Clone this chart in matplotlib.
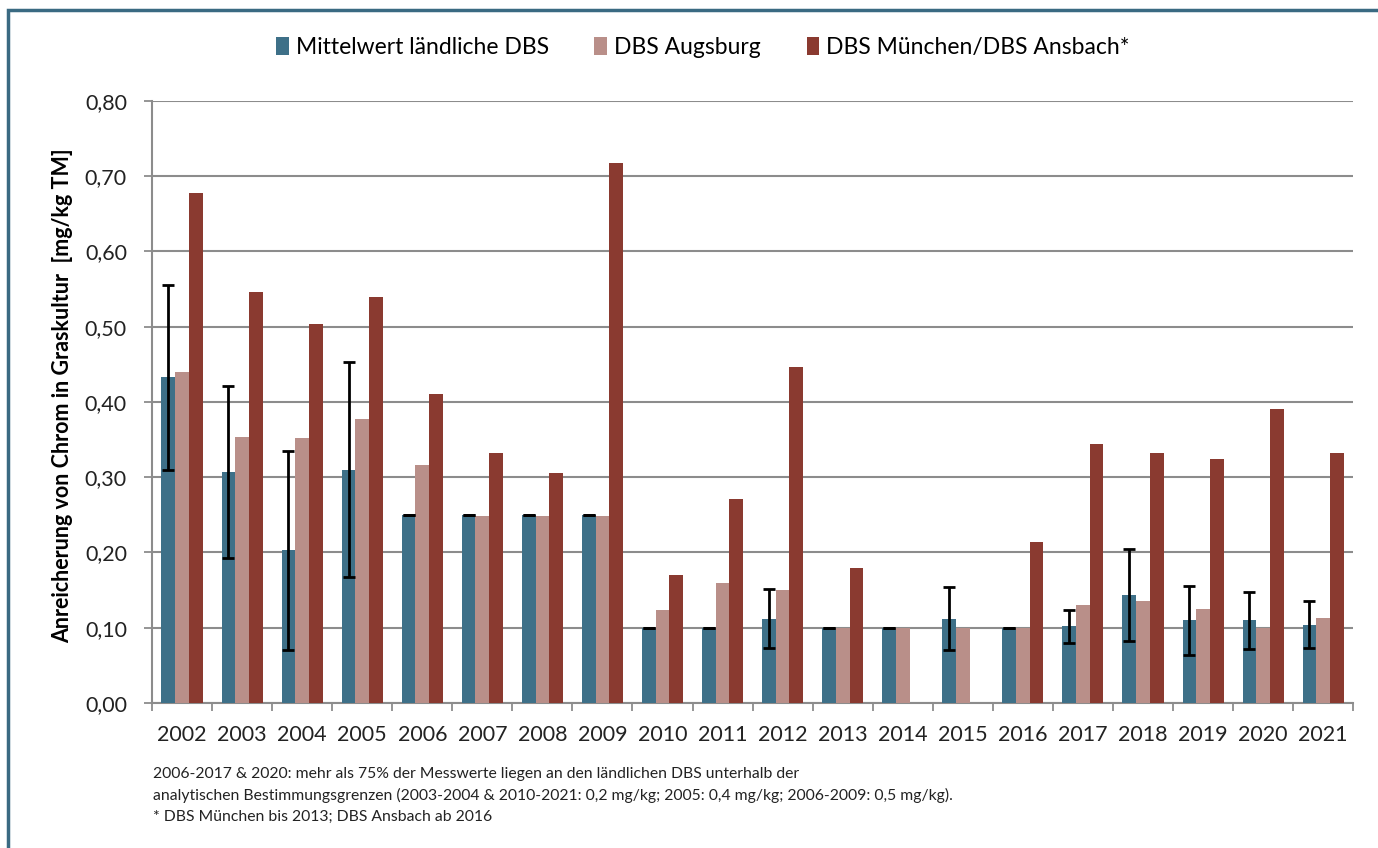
import numpy as np
import matplotlib.pyplot as plt
from matplotlib.patches import Rectangle

plt.rcParams['font.family'] = ['Lato', 'DejaVu Sans']

years = [str(y) for y in range(2002, 2022)]
laendlich = [0.433, 0.307, 0.203, 0.310, 0.25, 0.25, 0.25, 0.25, 0.10, 0.10,
             0.112, 0.10, 0.10, 0.112, 0.10, 0.102, 0.143, 0.110, 0.110, 0.104]
laendlich_err = [0.123, 0.114, 0.132, 0.143, 0, 0, 0, 0, 0, 0,
                 0.039, 0, 0, 0.042, 0, 0.022, 0.061, 0.046, 0.038, 0.031]
augsburg = [0.440, 0.354, 0.352, 0.377, 0.316, 0.248, 0.248, 0.248, 0.123, 0.159,
            0.150, 0.10, 0.10, 0.10, 0.10, 0.130, 0.135, 0.125, 0.10, 0.113]
muenchen_ansbach = [0.678, 0.546, 0.503, 0.539, 0.410, 0.332, 0.306, 0.718, 0.170, 0.271,
                    0.446, 0.180, np.nan, np.nan, 0.214, 0.344, 0.332, 0.324, 0.391, 0.332]

c_blue = '#3E7088'
c_pink = '#B98F89'
c_red = '#8A3A30'

fig = plt.figure(figsize=(13.78, 8.48), dpi=100)
ax = fig.add_axes([0.1103, 0.171, 0.8717, 0.710])

x = np.arange(len(years))
w = 0.228
ax.bar(x - w, laendlich, w, color=c_blue, label='Mittelwert ländliche DBS', zorder=3)
ax.bar(x, augsburg, w, color=c_pink, label='DBS Augsburg', zorder=3)
ax.bar(x + w, muenchen_ansbach, w, color=c_red, label='DBS München/DBS Ansbach*', zorder=3)
ax.errorbar(x - w, laendlich, yerr=laendlich_err, fmt='none', ecolor='black',
            elinewidth=2, capsize=4, capthick=2, zorder=4)

ax.set_xlim(-0.5, len(years) - 0.5)
ax.set_ylim(0, 0.80)
ax.set_yticks(np.arange(0, 0.81, 0.1))
ax.set_yticklabels([f'{v:.2f}'.replace('.', ',') for v in np.arange(0, 0.81, 0.1)])
ax.set_xticks(x)
ax.set_xticklabels(years)
ax.set_xticks(np.arange(-0.5, len(years), 1), minor=True)
ax.tick_params(axis='x', which='major', length=0, labelsize=15.5, pad=16, colors='#222222')
ax.tick_params(axis='x', which='minor', length=6, width=1.3, color='#8c8c8c')
ax.tick_params(axis='y', length=6, width=1.3, color='#8c8c8c', labelsize=15.5,
               labelcolor='#222222', pad=12)

ax.grid(axis='y', color='#8c8c8c', linewidth=1.5, zorder=0)
for side in ['top', 'right']:
    ax.spines[side].set_visible(False)
for side in ['left', 'bottom']:
    ax.spines[side].set_color('#8c8c8c')
    ax.spines[side].set_linewidth(1.5)

ax.set_ylabel('Anreicherung von Chrom in Graskultur  [mg/kg TM]', fontsize=15.5,
              fontweight='bold')
ax.yaxis.set_label_coords(-0.066, 0.51)

fig.legend(loc='center', bbox_to_anchor=(0.51, 0.944), ncol=3, frameon=False,
           fontsize=16.5, handlelength=0.55, handleheight=0.85, handletextpad=0.3,
           columnspacing=2.0)

notes = ['2006-2017 & 2020: mehr als 75% der Messwerte liegen an den ländlichen DBS unterhalb der',
         'analytischen Bestimmungsgrenzen (2003-2004 & 2010-2021: 0,2 mg/kg; 2005: 0,4 mg/kg; 2006-2009: 0,5 mg/kg).',
         '* DBS München bis 2013; DBS Ansbach ab 2016']
for i, line in enumerate(notes):
    fig.text(0.111, 0.087 - i * 0.025, line, fontsize=11.3, color='#222222', va='center')

# frame around the whole figure
fig.patches.append(Rectangle((0.006, -0.05), 1.2, 1.038, transform=fig.transFigure,
                             fill=False, edgecolor='#3A6A82', linewidth=2.5))

fig.savefig('out.png', dpi=100)
